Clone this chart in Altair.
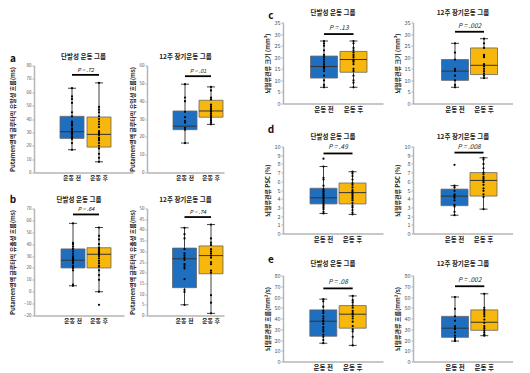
import altair as alt
import pandas as pd

groups = ["운동 전", "운동 후"]
colors = ["#1f6fc1", "#f7b70c"]
title_single = "단발성 운동 그룹"
title_long = "12주 장기운동 그룹"

# stats: [lower whisker, Q1, median, Q3, upper whisker]
a1_pre = [17, 25.5, 30.5, 42, 63]
a1_post = [8, 19, 28.5, 41.5, 67]
a1_pts_pre = [63, 57, 55, 52, 45, 42, 38, 37, 36, 35, 33, 32, 31, 30, 29, 28, 27, 26, 25, 22, 17]
a1_pts_post = [67, 49, 47, 45, 42, 40, 38, 36, 34, 31, 30, 29, 28, 26, 25, 24, 22, 20, 18, 14, 11, 8]

a2_pre = [16.5, 24, 26, 34.5, 49.5]
a2_post = [27, 31, 34.5, 40.5, 48]
a2_pts_pre = [49.5, 42, 40, 34, 31, 29, 28, 25, 24, 16.5]
a2_pts_post = [48, 46, 42, 41, 38, 37, 36, 35, 34, 33, 32, 31, 30, 29, 28, 27]

b1_pre = [5, 20, 26.5, 36, 57.5]
b1_post = [0, 20, 31.5, 37, 54]
b1_pts_pre = [57.5, 41, 40, 38, 36, 34, 32, 30, 29, 28, 27, 26, 25, 24, 22, 21, 20, 18, 6, 5]
b1_pts_post = [54, 47, 44, 40, 37, 36, 35, 34, 33, 32, 31, 30, 28, 26, 24, 22, 21, 18, 14, 10, 0, -11]

b2_pre = [5, 13, 26.5, 31.5, 41]
b2_post = [1, 19.5, 28, 32.5, 42.5]
b2_pts_pre = [41, 38, 36, 31, 29, 28, 27, 26, 24, 23, 22, 17, 12, 11, 5]
b2_pts_post = [42.5, 36, 34, 33, 31, 30, 29, 28, 27, 25, 24, 21, 20, 9.5, 6, 1]

c1_pre = [7, 11, 16, 20.5, 27]
c1_post = [7, 13.5, 19, 22.5, 27]
c1_pts_pre = [27, 26, 25, 23, 21, 20, 19, 18, 17, 16, 15.5, 15, 14, 12, 10, 8, 7]
c1_pts_post = [27, 26, 24, 23, 22, 21, 20, 19, 18.5, 18, 17, 15, 14, 12, 10, 9, 7]

c2_pre = [7, 10, 14, 19, 26]
c2_post = [11, 12.5, 16.5, 24, 28]
c2_pts_pre = [26, 22, 19, 15, 14.5, 14, 12, 10, 8, 7]
c2_pts_post = [28, 26, 24, 21, 20.5, 20, 17, 16, 15, 14, 13, 12, 11]

d1_pre = [2.3, 3.4, 4.1, 5.2, 7.7]
d1_post = [2.2, 3.4, 4.7, 5.8, 7.1]
d1_pts_pre = [8.6, 7.7, 6.4, 6.2, 5.5, 5.1, 4.9, 4.8, 4.6, 4.4, 4.2, 4.0, 3.8, 3.6, 3.4, 3.2, 3.0, 2.8, 2.5, 2.3]
d1_pts_post = [7.1, 6.9, 6.6, 6.2, 5.8, 5.6, 5.3, 5.0, 4.8, 4.6, 4.4, 4.2, 4.0, 3.8, 3.5, 3.2, 3.0, 2.7, 2.4, 2.2]

d2_pre = [2.1, 3.2, 4.3, 5.1, 5.5]
d2_post = [2.8, 4.3, 6.1, 7.0, 8.7]
d2_pts_pre = [7.9, 5.5, 5.3, 4.9, 4.5, 4.3, 4.1, 3.8, 3.3, 3.1, 2.5, 2.1]
d2_pts_post = [8.7, 8.5, 8.0, 7.5, 7.0, 6.8, 6.5, 6.3, 6.1, 5.9, 5.6, 5.2, 4.9, 4.5, 4.2, 2.8]

e1_pre = [17, 23.5, 37.5, 48, 58]
e1_post = [15, 31, 44, 52, 61]
e1_pts_pre = [58, 56, 51, 47, 45, 42, 40, 38, 37, 35, 32, 30, 28, 25, 23, 20, 17]
e1_pts_post = [61, 57, 55, 52, 50, 47, 45, 44, 42, 40, 37, 33, 30, 28, 23, 15]

e2_pre = [19, 22.5, 31, 42, 60]
e2_post = [24, 29, 36.5, 48, 63]
e2_pts_pre = [60, 49, 42, 38, 33, 31, 30, 27, 24, 22, 20, 19]
e2_pts_post = [63, 50, 48, 46, 44, 42, 39, 36, 33, 31, 29, 27, 25, 24]

p_texts = {"a1": "P = .72", "a2": "P = .01", "b1": "P = .64", "b2": "P = .74",
           "c1": "P = .13", "c2": "P = .002", "d1": "P = .49", "d2": "P = .008",
           "e1": "P = .08", "e2": "P = .002"}
p_levels = {"a1": 73, "a2": 54, "b1": 65, "b2": 46, "c1": 30, "c2": 31,
            "d1": 9.2, "d2": 9.3, "e1": 68, "e2": 70}

ytitle_a1 = "Putamen영역 글루타믹 유발성 흐름(ms)"
ytitle_a2 = "Putamen영역 글루타믹 유입성 흐름(ms)"
ytitle_b = "Putamen영역 글루타믹 유출성 흐름(ms)"
ytitle_c = "뇌혈류관류 크기 (mm³)"
ytitle_d = "뇌혈류관류 PSC (%)"
ytitle_e = "뇌혈류관류 흐름(mm²/s)"


def panel(key, pre, post, pts_pre, pts_post, title, ytitle, ydom, ystep,
          w, h, x0, step, boxpx, small, ytx, tdy, letter=None, lxy=(0, 0)):
    xd = [-x0 / step, (w - x0) / step]
    hb = boxpx / 2 / step
    hc = 4 / step
    fs_tick = 4.5 if small else 5.5
    fs_lab = 6 if small else 6.5
    xaxis = alt.Axis(values=[0, 1], labels=False, ticks=False, grid=False, title=None,
                     domainColor="#b5b5b5", domainWidth=1.5)
    yvals = list(range(ydom[0], ydom[1] + 1, ystep))
    yaxis = alt.Axis(values=yvals, title=ytitle, titleFontSize=6, titleFontWeight="bold",
                     titleColor="#222", titleX=ytx, titleY=h / 2, titleBaseline="middle",
                     titleAlign="center", titleAngle=270, titleLimit=300,
                     labelFontSize=fs_tick, labelColor="#555", tickSize=2, tickColor="#aaa",
                     domainColor="#b5b5b5", domainWidth=1.5, grid=False, labelPadding=1)
    xs = alt.Scale(domain=xd, nice=False, zero=False)
    ys = alt.Scale(domain=ydom, nice=False, zero=False)

    def X(f):
        return alt.X(f"{f}:Q", scale=xs, axis=xaxis)

    def Y(f):
        return alt.Y(f"{f}:Q", scale=ys, axis=yaxis)

    st = pd.DataFrame({"grp": groups, "pos": [0, 1],
                       "lo": [pre[0], post[0]], "q1": [pre[1], post[1]],
                       "med": [pre[2], post[2]], "q3": [pre[3], post[3]],
                       "hi": [pre[4], post[4]]})
    base = alt.Chart(st).transform_calculate(
        bl=f"datum.pos - {hb}", br=f"datum.pos + {hb}",
        cl=f"datum.pos - {hc}", cr=f"datum.pos + {hc}")
    whisk = base.mark_rule(color="#111", strokeWidth=0.8).encode(
        x=X("pos"), y=Y("lo"), y2=alt.Y2("hi:Q"))
    cap_lo = base.mark_rule(color="#111", strokeWidth=0.8).encode(
        x=X("cl"), x2=alt.X2("cr:Q"), y=Y("lo"))
    cap_hi = base.mark_rule(color="#111", strokeWidth=0.8).encode(
        x=X("cl"), x2=alt.X2("cr:Q"), y=Y("hi"))
    box = base.mark_rect(stroke="#666", strokeWidth=0.8).encode(
        x=X("bl"), x2=alt.X2("br:Q"), y=Y("q1"), y2=alt.Y2("q3:Q"),
        color=alt.Color("grp:N", scale=alt.Scale(domain=groups, range=colors), legend=None))
    med = base.mark_rule(color="#333", strokeWidth=1).encode(
        x=X("bl"), x2=alt.X2("br:Q"), y=Y("med"))
    xlab = base.mark_text(fontSize=fs_lab, fontWeight="bold", color="#222",
                          baseline="top", align="center").encode(
        x=X("pos"), y=alt.value(h + (2 if small else 3.5)), text=alt.Text("grp:N"))
    pts = pd.DataFrame({"pos": [0] * len(pts_pre) + [1] * len(pts_post),
                        "v": pts_pre + pts_post})
    dots = alt.Chart(pts).mark_circle(size=5, color="black", opacity=1).encode(
        x=X("pos"), y=Y("v"))
    pdf = pd.DataFrame({"a": [0], "b": [1], "m": [0.5], "y": [p_levels[key]],
                        "t": [p_texts[key]]})
    pbar = alt.Chart(pdf).mark_rule(color="black", strokeWidth=1.8).encode(
        x=X("a"), x2=alt.X2("b:Q"), y=Y("y"))
    ptxt = alt.Chart(pdf).mark_text(dy=-5 if small else -6, fontSize=5.5 if small else 6.5,
                                    fontStyle="italic", color="#222").encode(
        x=X("m"), y=Y("y"), text=alt.Text("t:N"))
    ttl = alt.Chart(pdf).mark_text(fontSize=6.5, fontWeight="bold", color="#222",
                                   baseline="middle").encode(
        x=alt.value(w / 2), y=alt.value(tdy), text=alt.value(title))
    layers = [whisk, cap_lo, cap_hi, box, med, dots, pbar, ptxt, xlab, ttl]
    if letter:
        lt = alt.Chart(pdf).mark_text(fontSize=10, fontWeight="bold", color="#111",
                                      baseline="middle").encode(
            x=alt.value(lxy[0]), y=alt.value(lxy[1]), text=alt.value(letter))
        layers.append(lt)
    return alt.layer(*layers).properties(width=w, height=h)


a1 = panel("a1", a1_pre, a1_post, a1_pts_pre, a1_pts_post, title_single, ytitle_a1,
           [0, 80], 10, 99, 107, 38, 27, 24, True, -22, -9, "a", (-21, -7))
a2 = panel("a2", a2_pre, a2_post, a2_pts_pre, a2_pts_post, title_long, ytitle_a2,
           [0, 60], 10, 77, 107, 38, 26, 24, True, -15, -9)
b1 = panel("b1", b1_pre, b1_post, b1_pts_pre, b1_pts_post, title_single, ytitle_b,
           [-20, 70], 10, 90, 107, 39, 26, 24, True, -22, -9, "b", (-21, -9))
b2 = panel("b2", b2_pre, b2_post, b2_pts_pre, b2_pts_post, title_long, ytitle_b,
           [0, 50], 5, 77, 107, 37.5, 26.5, 24, True, -15, -9)
c1 = panel("c1", c1_pre, c1_post, c1_pts_pre, c1_pts_post, title_single, ytitle_c,
           [0, 35], 5, 100, 81, 41, 29.5, 27, False, -16, -10, "c", (-12, -7))
c2 = panel("c2", c2_pre, c2_post, c2_pts_pre, c2_pts_post, title_long, ytitle_c,
           [0, 35], 5, 100, 81, 42, 29, 27, False, -16, -10)
d1 = panel("d1", d1_pre, d1_post, d1_pts_pre, d1_pts_post, title_single, ytitle_d,
           [0, 10], 1, 100, 87, 40.5, 29, 27, False, -16, -10, "d", (-12, -17))
d2 = panel("d2", d2_pre, d2_post, d2_pts_pre, d2_pts_post, title_long, ytitle_d,
           [0, 10], 1, 100, 87, 41.5, 29, 27, False, -16, -10)
e1 = panel("e1", e1_pre, e1_post, e1_pts_pre, e1_pts_post, title_single, ytitle_e,
           [0, 80], 10, 100, 86, 40.3, 29.4, 27, False, -16, -12, "e", (-12, -16))
e2 = panel("e2", e2_pre, e2_post, e2_pts_pre, e2_pts_post, title_long, ytitle_e,
           [0, 80], 10, 100, 86, 42, 29.3, 27, False, -16, -12)

spacer = alt.Chart(pd.DataFrame({"z": [0]})).mark_point(opacity=0, size=1).encode(
    x=alt.value(2), y=alt.value(2)).properties(width=10, height=19)

rowA = alt.hconcat(a1, a2, spacing=-5)
rowB = alt.hconcat(b1, b2, spacing=4)
left = alt.vconcat(spacer, alt.vconcat(rowA, rowB, spacing=14), spacing=12)

rowC = alt.hconcat(c1, c2, spacing=11)
rowD = alt.hconcat(d1, d2, spacing=11)
rowE = alt.hconcat(e1, e2, spacing=11)
right = alt.vconcat(alt.vconcat(rowC, rowD, spacing=11), rowE, spacing=11)

chart = alt.hconcat(left, right, spacing=40).properties(
    padding={"left": 0, "top": 1.5, "right": 0, "bottom": 0}, background="white"
).configure(font="Noto Sans CJK KR").configure_view(stroke=None)

chart.save("out.html", embed_options={"renderer": "svg", "actions": False})
